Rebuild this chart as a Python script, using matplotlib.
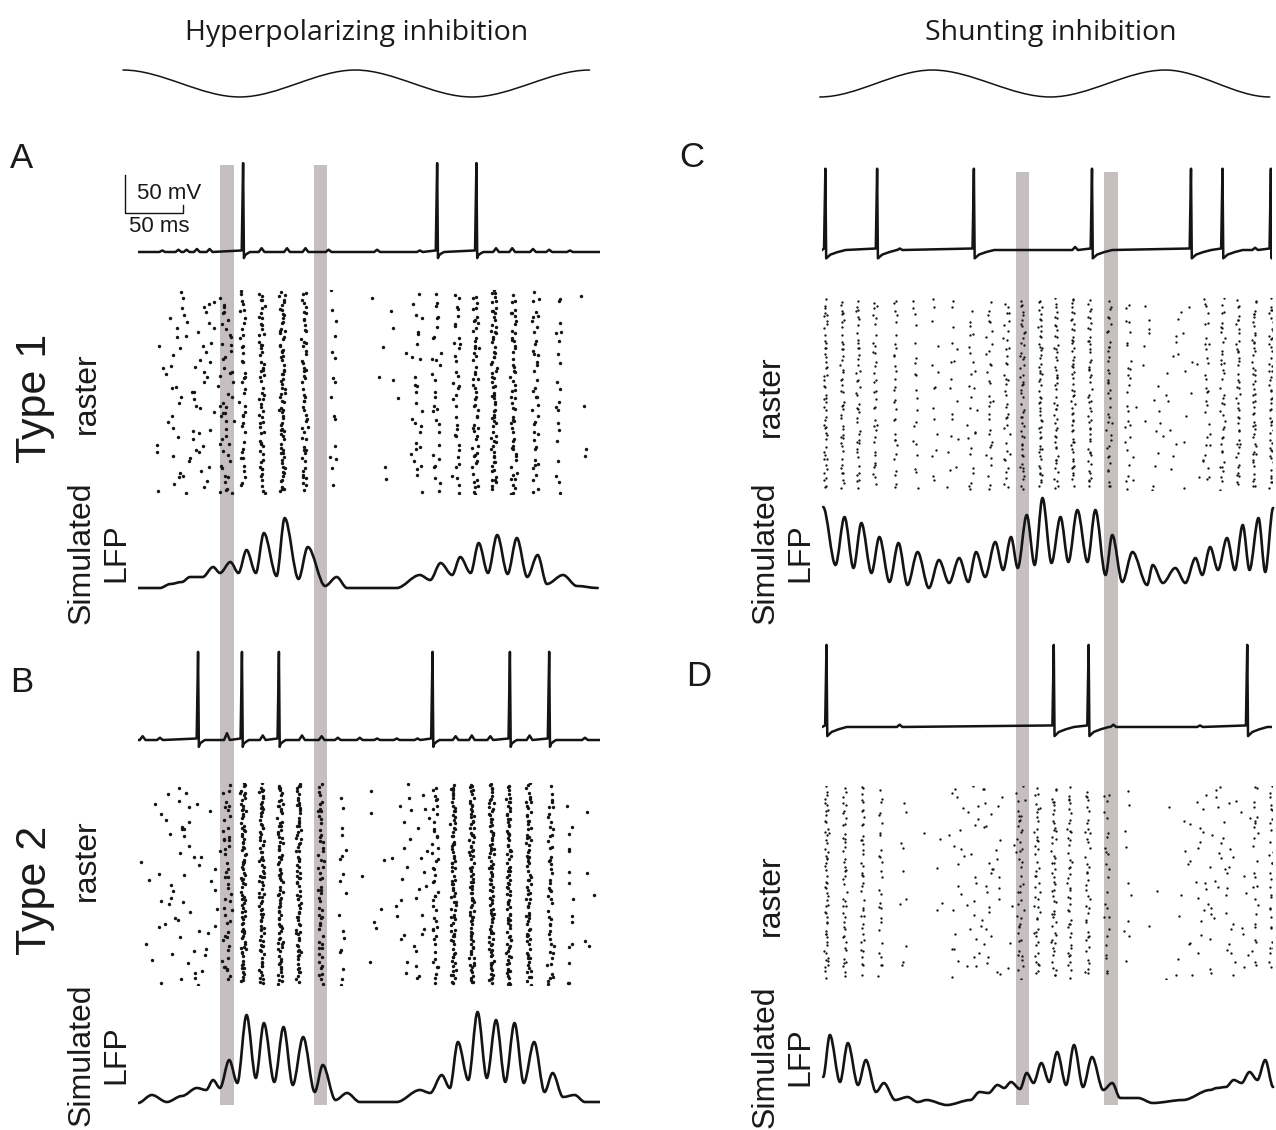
import numpy as np
import matplotlib.pyplot as plt
from matplotlib.path import Path
from matplotlib.patches import PathPatch

# ---------------------------------------------------------------------------
# data (time in ms, 400 ms window per panel)
# ---------------------------------------------------------------------------

# slow modulating oscillation above each column (extrema only)
WAVE_LEFT_T = [-13, 88, 188, 289, 391]
WAVE_LEFT_V = [1, -1, 1, -1, 1]
WAVE_RIGHT_T = [-2, 98, 203, 305, 398]
WAVE_RIGHT_V = [-1, 1, -1, 1, -1]

# shaded gamma cycles
GREY_LEFT = [(71, 83), (152, 164)]
GREY_RIGHT = [(172, 184), (251, 263)]

# single-cell membrane potential: spike times, small synaptic bumps (ms, mV)
V_REST = -65
SPIKES_A = [91, 259, 293]
BUMPS_A = [(21, 2), (35, 3), (42, 3), (51, 4), (62, 4), (107, 5), (129, 5), (145, 5),
           (165, 3), (207, 3), (244, 2), (310, 5), (324, 5), (342, 4), (356, 3), (374, 2)]
SPIKES_B = [52, 90, 122, 255, 322, 356]
BUMPS_B = [(4, 5), (19, 3), (77, 9), (108, 6), (142, 6), (159, 5), (173, 3), (192, 3),
           (207, 2), (224, 2), (242, 2), (275, 5), (289, 6), (305, 5), (339, 6), (387, 3)]
SPIKES_C = [3, 49, 135, 240, 328, 356, 399]
BUMPS_C = [(69, 2), (225, 4), (385, 3)]
SPIKES_D = [4, 206, 237, 378]
BUMPS_D = [(69, 3), (259, 3), (336, 2)]
V_PEAK = {"A": 52, "B": 51, "C": 42, "D": 43}
AHP = {"A": (8, 6), "B": (9, 6), "C": (11, 18), "D": (12, 18)}  # depth mV, recovery ms

# population raster: (centre ms, half width ms, number of spikes)
RASTER_A = [(45, 26, 70), (76, 6, 45), (91, 2.5, 40), (107, 2.2, 60), (125, 2.2, 75),
            (144, 2.5, 55), (169, 2.5, 16), (224, 22, 14), (242, 5, 24), (258, 4, 30),
            (276, 3, 35), (292, 2.5, 55), (308, 2.2, 70), (325, 2.5, 55), (344, 2.5, 40),
            (364, 2.5, 20), (386, 3, 4)]
RASTER_B = [(40, 30, 60), (77, 3.5, 45), (91, 2, 85), (107, 2, 85), (123, 2, 85),
            (139, 2, 80), (158, 2.5, 55), (177, 3, 18), (204, 12, 8), (238, 17, 35),
            (257, 2.5, 45), (273, 2, 80), (289, 2, 90), (306, 2, 90), (321, 2, 85),
            (338, 2, 75), (357, 2.5, 50), (374, 3, 15), (391, 4, 5)]
RASTER_C = [(3, 1.5, 50), (18, 1.5, 45), (32, 1.5, 42), (47, 1.5, 35), (65, 1.5, 30),
            (83, 2, 20), (100, 4, 15), (116, 5, 18), (133, 4, 26), (149, 3, 32),
            (164, 2.5, 38), (178, 2, 50), (194, 1.5, 55), (208, 1.5, 50), (223, 1.5, 55),
            (238, 1.5, 50), (255, 2, 40), (272, 2.5, 25), (305, 28, 45), (342, 2.5, 30),
            (356, 2, 40), (370, 1.5, 45), (384, 1.5, 50), (399, 1.5, 50)]
RASTER_D = [(4, 1.5, 55), (20, 1.5, 45), (36, 1.5, 40), (52, 1.5, 28), (72, 3, 10),
            (105, 18, 8), (142, 28, 70), (176, 4, 40), (191, 2.5, 45), (206, 2, 50),
            (220, 2, 45), (236, 2, 40), (253, 2.5, 25), (272, 4, 10), (314, 22, 12),
            (352, 30, 65), (385, 2.5, 25), (399, 1.5, 30)]
# fixed scatter offsets used to spread spikes inside a stripe
JITTER = [0.12, -0.83, 0.47, -0.31, 0.95, -0.58, 0.04, 0.71, -0.97, 0.36, -0.14, 0.62,
          -0.69, 0.25, -0.42, 0.88, -0.05, -0.76, 0.53, -0.22, 0.79, -0.91, 0.17, 0.41,
          -0.63, 0.68, -0.36, 0.01, -0.87, 0.92, -0.49, 0.29, -0.18, 0.57, -0.72, 0.84, -0.27]
JITTER2 = [-0.44, 0.81, -0.07, 0.33, -0.95, 0.58, -0.21, 0.9, -0.66, 0.15, 0.49, -0.8,
           0.02, -0.37, 0.73, -0.12, 0.97, -0.55, 0.26, -0.88, 0.64, -0.29, 0.41, -0.71,
           0.09, 0.86, -0.49, 0.2, -0.6]

# simulated LFP, extrema of the trace (ms, a.u.)
LFP_A_T = [0, 19, 28, 38, 45, 56, 65, 71, 80, 87, 94, 102, 109, 120, 127, 139, 147, 162, 172,
           181, 224, 244, 253, 262, 272, 279, 288, 295, 303, 311, 320, 328, 337, 346, 354,
           368, 380, 398]
LFP_A_V = [2, 2, 6, 8, 13, 13, 23, 17, 28, 17, 40, 17, 57, 14, 72, 11, 43, 4, 13,
           2, 2, 15, 10, 27, 15, 33, 17, 47, 17, 55, 16, 52, 13, 35, 6,
           15, 4, 2]
LFP_B_T = [0, 12, 25, 38, 51, 59, 65, 71, 79, 86, 94, 102, 109, 118, 126, 134, 143, 153, 160,
           171, 181, 192, 224, 244, 253, 263, 270, 277, 286, 294, 302, 310, 318, 326, 334,
           343, 352, 359, 368, 378, 387, 400]
LFP_B_V = [2, 10, 3, 9, 17, 15, 25, 17, 45, 22, 90, 27, 82, 23, 78, 20, 68, 13, 40,
           5, 12, 3, 3, 15, 12, 30, 17, 63, 25, 93, 27, 85, 23, 82, 22,
           63, 13, 32, 8, 10, 3, 3]
LFP_C_T = [1, 12, 20, 28, 35, 44, 51, 60, 68, 76, 85, 95, 104, 113, 122, 130, 137, 145, 154,
           161, 168, 174, 182, 189, 196, 204, 212, 219, 227, 236, 243, 252, 258, 267, 276,
           289, 294, 303, 314, 323, 332, 338, 345, 352, 360, 367, 374, 380, 388, 394, 401]
LFP_C_V = [83, 25, 73, 22, 67, 17, 53, 8, 47, 5, 38, 2, 30, 7, 32, 8, 38, 13, 48,
           20, 53, 22, 75, 25, 92, 27, 73, 28, 80, 28, 80, 15, 55, 8, 38,
           5, 25, 7, 22, 7, 32, 15, 43, 20, 52, 20, 65, 20, 72, 18, 82]
LFP_D_T = [1, 7, 16, 23, 32, 39, 48, 55, 65, 76, 85, 93, 111, 132, 140, 148, 156, 162, 168,
           176, 182, 188, 195, 202, 209, 217, 224, 232, 240, 250, 258, 265, 281, 294, 321,
           345, 351, 359, 366, 373, 380, 387, 394, 401]
LFP_D_V = [28, 70, 23, 62, 20, 45, 13, 22, 5, 8, 3, 5, 0, 5, 13, 12, 20, 17, 23,
           16, 32, 22, 42, 23, 53, 20, 60, 18, 48, 15, 22, 7, 7, 2, 5,
           15, 17, 18, 25, 22, 33, 25, 45, 18]

# ---------------------------------------------------------------------------
# helpers
# ---------------------------------------------------------------------------

W, H = 1276, 1130
fig = plt.figure(figsize=(W / 100, H / 100), dpi=100)
INK = '#141414'
GREY = '#c5bfbf'
LABEL_FONT = ['Liberation Sans', 'DejaVu Sans']
TITLE_FONT = ['Open Sans', 'DejaVu Sans']


def panel(x0, y0, x1, y1, ylim, xlim=(0, 400)):
    """axes placed by pixel box (top-left origin)"""
    ax = fig.add_axes([x0 / W, 1 - y1 / H, (x1 - x0) / W, (y1 - y0) / H])
    ax.set_xlim(*xlim)
    ax.set_ylim(*ylim)
    ax.set_axis_off()
    return ax


def smooth(ax, t, v, lw, clip=True):
    # cubic segments with flat tangents at each extremum
    verts = [(t[0], v[0])]
    codes = [Path.MOVETO]
    for i in range(1, len(t)):
        d = (t[i] - t[i - 1]) / 3
        verts += [(t[i - 1] + d, v[i - 1]), (t[i] - d, v[i]), (t[i], v[i])]
        codes += [Path.CURVE4] * 3
    patch = PathPatch(Path(verts, codes), fill=False, lw=lw, ec=INK,
                      capstyle='round', joinstyle='round')
    patch.set_clip_on(clip)
    ax.add_patch(patch)


def membrane(ax, spikes, bumps, peak, ahp):
    depth, rec = ahp
    pts = [(0, V_REST), (400, V_REST)]
    for t, h in bumps:
        pts += [(t - 2.5, V_REST), (t, V_REST + h), (t + 2.5, V_REST)]
    for t in spikes:
        pts += [(t - 1.2, V_REST + 2), (t, peak), (t + 0.7, V_REST - depth),
                (t + 0.25 * rec, V_REST - 0.55 * depth),
                (t + 0.6 * rec, V_REST - 0.25 * depth), (t + rec, V_REST)]
    pts.sort()
    tt, vv = zip(*pts)
    ax.plot(tt, vv, color=INK, lw=1.8, solid_joinstyle='round')


def raster(ax, stripes, seed, size):
    xs, ys = [], []
    n1, n2 = len(JITTER), len(JITTER2)
    for i, (c, w, n) in enumerate(stripes):
        s = seed + 7 * i
        for k in range(n):
            dx = 0.6 * JITTER[(s + 5 * k) % n1] + 0.4 * JITTER2[(2 * s + 3 * k) % n2]
            dy = 0.85 * JITTER2[(s + 7 * k + 4) % n2]
            xs.append(c + w * dx / 0.75)
            ys.append((100 * (k + 0.5 + dy) / n) % 100)
    ax.scatter(xs, ys, s=size, c=INK, linewidths=0)


def ftext(x, y, s, size, family=LABEL_FONT, **kw):
    fig.text(x / W, 1 - y / H, s, fontsize=size, family=family,
             ha='center', va='center', color='#1a1a1a', **kw)


# ---------------------------------------------------------------------------
# grey shading spanning both rows of each column
# ---------------------------------------------------------------------------
gl = panel(138, 165, 600, 1105, (0, 1))
for a, b in GREY_LEFT:
    gl.axvspan(a, b, color=GREY, lw=0)
gr = panel(822, 172, 1272, 1105, (0, 1))
for a, b in GREY_RIGHT:
    gr.axvspan(a, b, color=GREY, lw=0)

# ---------------------------------------------------------------------------
# oscillation on top
# ---------------------------------------------------------------------------
wl = panel(138, 68, 600, 99, (-1.15, 1.15))
smooth(wl, WAVE_LEFT_T, WAVE_LEFT_V, 1.1, clip=False)
wr = panel(822, 68, 1272, 99, (-1.15, 1.15))
smooth(wr, WAVE_RIGHT_T, WAVE_RIGHT_V, 1.1, clip=False)

# ---------------------------------------------------------------------------
# membrane potential traces
# ---------------------------------------------------------------------------
ta = panel(138, 150, 600, 270, (-88.7, 69.2))
membrane(ta, SPIKES_A, BUMPS_A, V_PEAK["A"], AHP["A"])
tb = panel(138, 640, 600, 760, (-91.3, 66.6))
membrane(tb, SPIKES_B, BUMPS_B, V_PEAK["B"], AHP["B"])
tc = panel(822, 150, 1272, 270, (-91.3, 66.6))
membrane(tc, SPIKES_C, BUMPS_C, V_PEAK["C"], AHP["C"])
td = panel(822, 630, 1272, 750, (-95.3, 62.6))
membrane(td, SPIKES_D, BUMPS_D, V_PEAK["D"], AHP["D"])

# scale bar: 50 mV / 50 ms
ta.plot([-11, -11, 39, 39], [36, -14, -14, -3.5], color=INK, lw=1.0, clip_on=False)
ta.text(-1, 12, '50 mV', fontsize=16, family=LABEL_FONT, ha='left', va='center', color='#1a1a1a')
ta.text(-7.5, -32, '50 ms', fontsize=16, family=LABEL_FONT, ha='left', va='center', color='#1a1a1a')

# ---------------------------------------------------------------------------
# rasters
# ---------------------------------------------------------------------------
ra = panel(138, 290, 600, 494, (100, 0))
raster(ra, RASTER_A, 0, 6)
rb = panel(138, 783, 600, 985, (100, 0))
raster(rb, RASTER_B, 4, 6)
rc = panel(822, 298, 1272, 490, (100, 0))
raster(rc, RASTER_C, 9, 2.8)
rd = panel(822, 786, 1272, 979, (100, 0))
raster(rd, RASTER_D, 13, 2.8)

# ---------------------------------------------------------------------------
# simulated LFP
# ---------------------------------------------------------------------------
la = panel(138, 495, 600, 600, (-10, 95))
smooth(la, LFP_A_T, LFP_A_V, 1.9)
lb = panel(138, 1000, 600, 1112, (-7, 105))
smooth(lb, LFP_B_T, LFP_B_V, 1.9)
lc = panel(822, 490, 1272, 600, (-10, 100))
smooth(lc, LFP_C_T, LFP_C_V, 1.9, clip=False)
ld = panel(822, 1010, 1272, 1112, (-7, 95))
smooth(ld, LFP_D_T, LFP_D_V, 1.9, clip=False)

# ---------------------------------------------------------------------------
# labels
# ---------------------------------------------------------------------------
ftext(357, 33, 'Hyperpolarizing inhibition', 20.5, family=TITLE_FONT)
ftext(1051, 33, 'Shunting inhibition', 20.5, family=TITLE_FONT)

ftext(22, 158, 'A', 25)
ftext(22, 683, 'B', 25)
ftext(692, 157, 'C', 25)
ftext(699, 677, 'D', 25)

ftext(35, 398, 'Type 1', 31, rotation=90)
ftext(35, 890, 'Type 2', 31, rotation=90)

for x_r, x_l, y_r, y_l in [(87, 99, 393, 553), (87, 99, 860, 1055),
                           (771, 783, 396, 553), (771, 783, 895, 1057)]:
    ftext(x_r, y_r, 'raster', 23, rotation=90)
    ftext(x_l, y_l, 'Simulated\nLFP', 23, rotation=90, linespacing=1.2,
          multialignment='center')

fig.savefig('out.png', dpi=100)
